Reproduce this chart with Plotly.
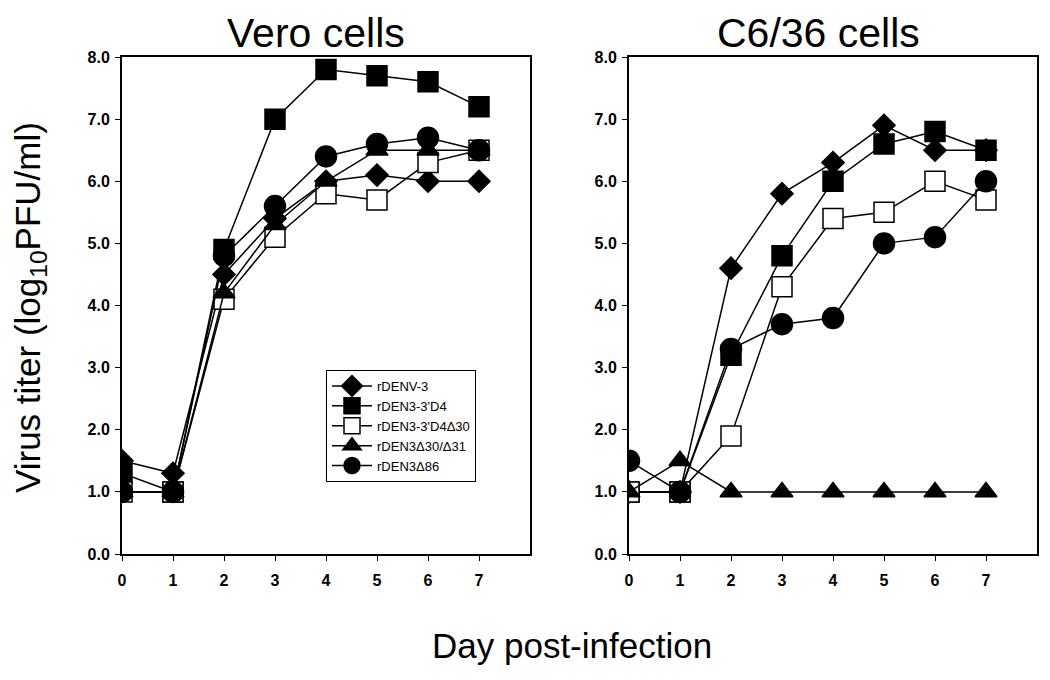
import plotly.graph_objects as go

days = [0, 1, 2, 3, 4, 5, 6, 7]
series_names = ["rDENV-3", "rDEN3-3'D4", "rDEN3-3'D4Δ30", "rDEN3Δ30/Δ31", "rDEN3Δ86"]

# Vero cells
vero_rdenv3 = [1.5, 1.3, 4.5, 5.4, 6.0, 6.1, 6.0, 6.0]
vero_3d4 = [1.3, 1.0, 4.9, 7.0, 7.8, 7.7, 7.6, 7.2]
vero_3d4d30 = [1.0, 1.0, 4.1, 5.1, 5.8, 5.7, 6.3, 6.5]
vero_d30d31 = [1.0, 1.0, 4.2, 5.3, 6.0, 6.5, 6.5, 6.5]
vero_d86 = [1.0, 1.0, 4.8, 5.6, 6.4, 6.6, 6.7, 6.5]

# C6/36 cells
c636_rdenv3 = [1.0, 1.0, 4.6, 5.8, 6.3, 6.9, 6.5, 6.5]
c636_3d4 = [1.0, 1.0, 3.2, 4.8, 6.0, 6.6, 6.8, 6.5]
c636_3d4d30 = [1.0, 1.0, 1.9, 4.3, 5.4, 5.5, 6.0, 5.7]
c636_d30d31 = [1.0, 1.5, 1.0, 1.0, 1.0, 1.0, 1.0, 1.0]
c636_d86 = [1.5, 1.0, 3.3, 3.7, 3.8, 5.0, 5.1, 6.0]

x_ticks = [0, 1, 2, 3, 4, 5, 6, 7]
y_ticks = [0, 1, 2, 3, 4, 5, 6, 7, 8]

vero = [vero_rdenv3, vero_3d4, vero_3d4d30, vero_d30d31, vero_d86]
c636 = [c636_rdenv3, c636_3d4, c636_3d4d30, c636_d30d31, c636_d86]

styles = [
    dict(symbol="diamond", size=17, color="black"),
    dict(symbol="square", size=20, color="black"),
    dict(symbol="square", size=20, color="white"),
    dict(symbol="triangle-up", size=19, color="black"),
    dict(symbol="circle", size=21, color="black"),
]

FONT = "Arial, 'Liberation Sans', Helvetica, sans-serif"

# page has an 8px body margin; figure occupies (8..1050, 8..680)
W, H, OFF = 1042, 672, 8


def px(X):
    return (X - OFF) / W


def py(Y):
    return 1 - (Y - OFF) / H


fig = go.Figure()
for panel, data in enumerate([vero, c636]):
    xa = "x" if panel == 0 else "x2"
    ya = "y" if panel == 0 else "y2"
    for name, vals, st in zip(series_names, data, styles):
        fig.add_trace(go.Scatter(
            x=days, y=vals, name=name, mode="lines+markers",
            xaxis=xa, yaxis=ya, showlegend=(panel == 0),
            line=dict(color="black", width=1.5),
            marker=dict(symbol=st["symbol"], size=st["size"], color=st["color"],
                        line=dict(color="black", width=1.5)),
        ))

axis_common = dict(
    showline=True, linecolor="black", linewidth=2, mirror=True,
    ticks="outside", ticklen=5, tickcolor="black", tickwidth=1,
    showgrid=False, zeroline=False, automargin=False,
    tickfont=dict(family=FONT, size=16, color="black", weight="bold"),
)

x_dom1 = [px(122), px(530)]
x_dom2 = [px(629), px(1037)]
y_dom = [py(554), py(57)]

fig.update_layout(
    width=W, height=H,
    margin=dict(l=0, r=0, t=0, b=0, autoexpand=False),
    paper_bgcolor="white", plot_bgcolor="white",
    font=dict(family=FONT, color="black"),
    xaxis=dict(domain=x_dom1, range=[0, 8], tickvals=x_ticks, anchor="y", ticklabelstandoff=6, **axis_common),
    yaxis=dict(domain=y_dom, range=[0, 8], tickvals=y_ticks, tickformat=".1f", anchor="x", ticklabelstandoff=2, **axis_common),
    xaxis2=dict(domain=x_dom2, range=[0, 8], tickvals=x_ticks, anchor="y2", ticklabelstandoff=6, **axis_common),
    yaxis2=dict(domain=y_dom, range=[0, 8], tickvals=y_ticks, tickformat=".1f", anchor="x2", ticklabelstandoff=2, **axis_common),
    legend=dict(
        x=px(326), y=py(370), xanchor="left", yanchor="top",
        bordercolor="black", borderwidth=1, bgcolor="white",
        font=dict(family=FONT, size=13, color="black"),
        itemsizing="trace", itemwidth=40, tracegroupgap=0,
    ),
    annotations=[
        dict(text="Vero cells", x=px(316), y=py(33), xref="paper", yref="paper",
             showarrow=False, font=dict(family=FONT, size=41, color="black"),
             xanchor="center", yanchor="middle"),
        dict(text="C6/36 cells", x=px(818), y=py(33), xref="paper", yref="paper",
             showarrow=False, font=dict(family=FONT, size=41, color="black"),
             xanchor="center", yanchor="middle"),
        dict(text="Virus titer (log<sub>10</sub>PFU/ml)", x=px(30), y=py(308),
             xref="paper", yref="paper", textangle=-90, showarrow=False,
             font=dict(family=FONT, size=35, color="black"),
             xanchor="center", yanchor="middle"),
        dict(text="Day post-infection", x=px(572), y=py(645), xref="paper", yref="paper",
             showarrow=False, font=dict(family=FONT, size=35, color="black"),
             xanchor="center", yanchor="middle"),
    ],
)

fig.write_html("out.html")
